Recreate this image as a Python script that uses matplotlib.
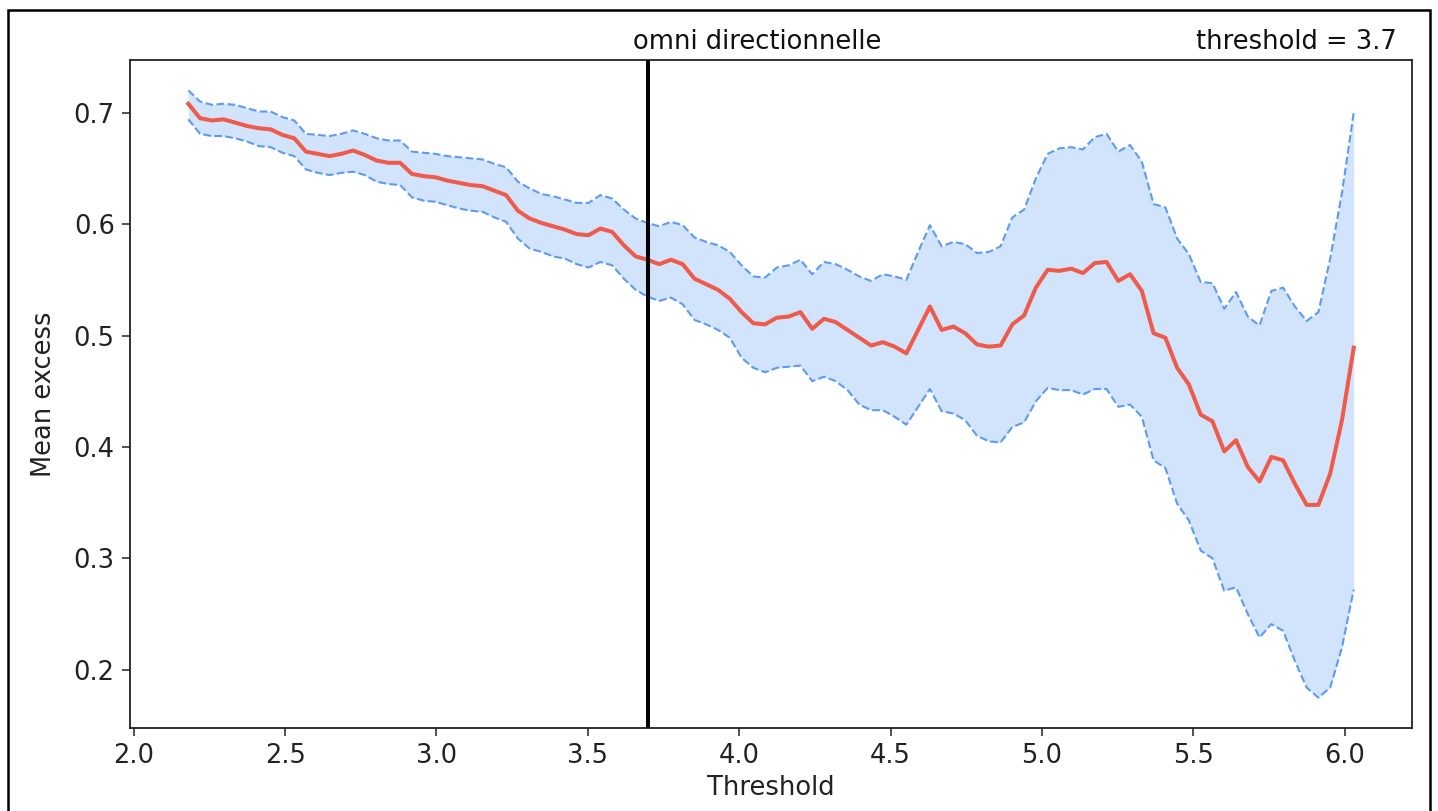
import numpy as np
import matplotlib
matplotlib.use("Agg")
import matplotlib.pyplot as plt
from matplotlib.patches import Rectangle

# Threshold grid used for the mean excess function
t_min, t_max, n_thr = 2.18, 6.03, 100

mean_excess = [
    0.708, 0.695, 0.693, 0.694, 0.691, 0.688, 0.686, 0.685, 0.680, 0.677,
    0.665, 0.663, 0.661, 0.663, 0.666, 0.662, 0.657, 0.655, 0.655, 0.645,
    0.643, 0.642, 0.639, 0.637, 0.635, 0.634, 0.630, 0.626, 0.612, 0.605,
    0.601, 0.598, 0.595, 0.591, 0.590, 0.596, 0.593, 0.581, 0.571, 0.568,
    0.564, 0.568, 0.564, 0.551, 0.546, 0.541, 0.533, 0.521, 0.511, 0.510,
    0.516, 0.517, 0.521, 0.506, 0.515, 0.512, 0.505, 0.498, 0.491, 0.494,
    0.490, 0.484, 0.505, 0.526, 0.505, 0.508, 0.502, 0.492, 0.490, 0.491,
    0.510, 0.518, 0.543, 0.559, 0.558, 0.560, 0.556, 0.565, 0.566, 0.549,
    0.555, 0.540, 0.502, 0.498, 0.471, 0.456, 0.429, 0.423, 0.396, 0.406,
    0.382, 0.369, 0.391, 0.388, 0.367, 0.348, 0.348, 0.376, 0.424, 0.489,
]

upper_ci = [
    0.720, 0.710, 0.707, 0.708, 0.707, 0.704, 0.701, 0.701, 0.696, 0.693,
    0.681, 0.680, 0.679, 0.681, 0.684, 0.681, 0.677, 0.675, 0.675, 0.665,
    0.664, 0.663, 0.661, 0.660, 0.659, 0.658, 0.654, 0.651, 0.638, 0.632,
    0.627, 0.625, 0.622, 0.619, 0.619, 0.626, 0.623, 0.613, 0.605, 0.601,
    0.598, 0.602, 0.599, 0.588, 0.584, 0.581, 0.575, 0.563, 0.553, 0.552,
    0.561, 0.563, 0.568, 0.555, 0.566, 0.564, 0.559, 0.553, 0.549, 0.555,
    0.553, 0.550, 0.575, 0.599, 0.580, 0.584, 0.582, 0.574, 0.575, 0.580,
    0.606, 0.613, 0.641, 0.663, 0.668, 0.669, 0.667, 0.678, 0.681, 0.665,
    0.671, 0.656, 0.618, 0.615, 0.587, 0.573, 0.548, 0.547, 0.524, 0.539,
    0.517, 0.509, 0.540, 0.543, 0.526, 0.513, 0.521, 0.569, 0.628, 0.700,
]

lower_ci = [
    0.694, 0.681, 0.679, 0.679, 0.677, 0.674, 0.670, 0.669, 0.664, 0.661,
    0.649, 0.646, 0.644, 0.646, 0.647, 0.644, 0.638, 0.636, 0.635, 0.624,
    0.621, 0.620, 0.617, 0.614, 0.612, 0.611, 0.606, 0.602, 0.587, 0.578,
    0.575, 0.571, 0.569, 0.564, 0.561, 0.566, 0.563, 0.551, 0.541, 0.535,
    0.531, 0.534, 0.528, 0.514, 0.510, 0.505, 0.498, 0.480, 0.471, 0.467,
    0.471, 0.472, 0.473, 0.459, 0.463, 0.459, 0.451, 0.438, 0.433, 0.433,
    0.427, 0.420, 0.436, 0.452, 0.432, 0.430, 0.424, 0.410, 0.405, 0.404,
    0.418, 0.422, 0.441, 0.453, 0.451, 0.451, 0.447, 0.452, 0.452, 0.436,
    0.438, 0.427, 0.388, 0.381, 0.349, 0.334, 0.307, 0.300, 0.271, 0.274,
    0.250, 0.229, 0.241, 0.235, 0.208, 0.184, 0.175, 0.184, 0.220, 0.272,
]

chosen_threshold = 3.7
title_text = "omni directionnelle"
threshold_text = "threshold = 3.7"
x_ticks = [2.0, 2.5, 3.0, 3.5, 4.0, 4.5, 5.0, 5.5, 6.0]
y_ticks = [0.2, 0.3, 0.4, 0.5, 0.6, 0.7]

thresholds = np.linspace(t_min, t_max, n_thr)

W, H = 1438, 811
FS = 18.5
fig = plt.figure(figsize=(W / 100, H / 100), dpi=100)
fig.patch.set_facecolor("white")

ax = fig.add_axes([130 / W, 1 - 728 / H, (1412 - 130) / W, (728 - 60) / H])

ax.fill_between(thresholds, lower_ci, upper_ci, color="#d2e3fc", linewidth=0, zorder=1)
ax.plot(thresholds, upper_ci, linestyle="--", color="#5b9cf3", linewidth=1.5, zorder=2)
ax.plot(thresholds, lower_ci, linestyle="--", color="#5b9cf3", linewidth=1.5, zorder=2)
ax.plot(thresholds, mean_excess, color="#ef5b4b", linewidth=2.9, zorder=3,
        solid_joinstyle="round")
ax.axvline(chosen_threshold, color="black", linewidth=2.9, zorder=4)

ax.set_xticks(x_ticks)
ax.set_yticks(y_ticks)
ax.set_xticklabels([f"{v:.1f}" for v in x_ticks])
ax.set_yticklabels([f"{v:.1f}" for v in y_ticks])
ax.tick_params(labelsize=FS, length=6, width=1.2, color="#333333",
               labelcolor="#222222", pad=5)
for s in ax.spines.values():
    s.set_linewidth(1.3)
    s.set_color("#222222")

ax.set_xlabel("Threshold", fontsize=FS, color="#222222", labelpad=4)
ax.set_ylabel("Mean excess", fontsize=FS, color="#222222", labelpad=12)

fig.text(757 / W, 1 - 49 / H, title_text, ha="center", va="baseline",
         fontsize=FS, color="#111111")
fig.text(1397 / W, 1 - 49 / H, threshold_text, ha="right", va="baseline",
         fontsize=FS, color="#111111")

# outer frame around the figure
fig.patches.append(Rectangle((8 / W, -0.02), (1430 - 8) / W, 1 - 10 / H + 0.02,
                             transform=fig.transFigure, fill=False,
                             edgecolor="black", linewidth=1.8))

fig.savefig("out.png", dpi=100)
